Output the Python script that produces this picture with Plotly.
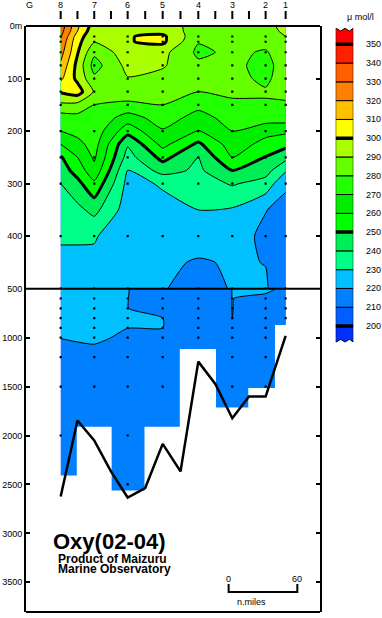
import numpy as np
import plotly.graph_objects as go

# ---------------- data ----------------
stations = ["8", "7", "6", "5", "4", "3", "2", "1"]
station_nm = [0.0, 29.3, 58.5, 89.1, 120.2, 149.9, 179.0, 196.5]

# upper section grid columns: stations plus one analysed column between 8 and 7
upper_nm = [0.0, 14.65, 29.3, 58.5, 89.1, 120.2, 149.9, 179.0, 196.5]
upper_depths = [0, 10, 20, 30, 50, 75, 100, 125, 150, 175, 200, 225, 250, 275, 300, 350, 400, 450, 500]
upper_oxy = [
    #  st8   8/7    st7    st6    st5    st4    st3    st2    st1
    [336,   312,   295,   296,   295,   286,   285,   287,   293],    # 0
    [334,   310,   293,   296,   297,   285,   284,   286,   292],    # 10
    [331,   305,   292,   299.5, 302,   283,   283,   285,   290],    # 20
    [328,   303,   290.5, 299.5, 302,   280.5, 282,   283,   287],    # 30
    [324,   300.8, 282,   296,   293,   278,   282,   279,   286],    # 50
    [318,   297,   276,   293,   291,   282,   283,   276,   286],    # 75
    [312,   297.5, 282,   289.5, 287,   284,   283,   278,   285],    # 100
    [301,   305,   289,   285,   284,   280,   281,   281,   282],    # 125
    [288,   287,   280,   278,   280,   273,   279,   279,   279],    # 150
    [275,   276.5, 278,   265,   275,   266,   274,   275,   275],    # 175
    [270,   273,   276,   254,   269,   259.5, 270,   263,   262],    # 200
    [260,   267,   274,   241,   263,   248,   265,   257,   253],    # 225
    [249,   260,   271.5, 236,   253,   240,   260.5, 249.5, 243],    # 250
    [245,   254,   267,   229.5, 244,   238,   250,   244,   231],    # 275
    [240,   247,   258,   227,   231,   235,   241,   236,   221.5],  # 300
    [235,   237.5, 243,   225,   227,   230,   229,   220.3, 217],    # 350
    [231,   231,   230.8, 224,   224,   225,   224,   218,   215],    # 400
    [228,   228,   228,   222.5, 222,   219,   221,   219.8, 214],    # 450
    [227,   226,   225,   221,   220.5, 217,   220.5, 221,   213],    # 500
]

lower_depths = [500, 600, 700, 800, 900, 1000, 1200, 1500, 2000, 2500, 2700]
lower_oxy = [
    [227, 224, 220.05, 219, 216, 220.05, 221, 219],
    [226, 224, 220.05, 218, 216, 220.05, 219, 217],
    [225, 223.5, 220.05, 218, 216, 220.05, 218, 216],
    [224, 223, 221, 220.05, 216, 220.05, 218, 215],
    [222, 222, 220.05, 220.05, 216, 219, 217, 214],
    [220.1, 221, 219, 219, 215, 218, 216, 214],
    [218, 218, 217, 217, 214, 216, 215, 213],
    [216, 216, 216, 216, 214, 215, 214, 213],
    [215, 215, 215, 215, 213, 214, 214, 213],
    [214, 214, 214, 214, 213, 214, 213, 213],
    [214, 214, 214, 214, 213, 214, 213, 213],
]

# deepest sampled depth per station (block bottoms)
data_bottom = [2408, 1911, 2561, 1911, 1116, 1714, 1514, 871]

# bottom topography (stations and midpoints)
bath_nm = [0.0, 14.65, 29.3, 43.9, 58.5, 73.8, 89.1, 104.65, 120.2, 135.05, 149.9, 164.45, 179.0, 196.5]
bath_depth = [2622, 1847, 2051, 2367, 2633, 2537, 2085, 2367, 1245, 1473, 1823, 1602, 1602, 983]

sample_depths = [0, 20, 30, 50, 75, 100, 125, 150, 200, 250, 300, 400, 500,
                 600, 700, 800, 900, 1000, 1200, 1500, 2000, 2500]

levels = [200, 210, 220, 230, 240, 250, 260, 270, 280, 290, 300, 310, 320, 330, 340, 350]
band_colors = ["#0030FF", "#0060FF", "#0080FF", "#00C0FF", "#00FF88", "#00EE55",
               "#00FF00", "#00EE00", "#22FF00", "#66FF00", "#AAFF00", "#FFFF00",
               "#FFC000", "#FF8000", "#FF6000", "#FF2000", "#FF0000"]

upper_ticks = [0, 100, 200, 300, 400, 500]
upper_ticktext = ["0m", "100", "200", "300", "400", "500"]
lower_ticks = [1000, 1500, 2000, 2500, 3000, 3500]

FONT = "Liberation Sans, Arial, sans-serif"

# ---------------- figure ----------------
W, H = 382, 618
ML, MR, MT, MB = 26, 2, 26, 6
PW, PH = W - ML - MR, H - MT - MB
main_right = 320
x_dom_end = (main_right - ML) / PW
split_px = 288.7
y_split = 1 - (split_px - MT) / PH

nb = len(levels)
colorscale = [[k / nb, band_colors[k]] for k in range(nb + 1)]

fig = go.Figure()

for xs, z, d, xa, ya in [(upper_nm, upper_oxy, upper_depths, "x", "y"),
                         (station_nm, lower_oxy, lower_depths, "x2", "y2")]:
    fig.add_trace(go.Contour(
        x=xs, y=d, z=z, xaxis=xa, yaxis=ya,
        colorscale=colorscale, showscale=False, hoverinfo="skip",
        contours=dict(start=levels[0], end=levels[-1], size=10, coloring="fill", showlines=True),
        line=dict(color="black", width=1, smoothing=0.6),
    ))
    fig.add_trace(go.Contour(
        x=xs, y=d, z=z, xaxis=xa, yaxis=ya, showscale=False, hoverinfo="skip",
        contours=dict(start=levels[0], end=levels[-1], size=50, coloring="none", showlines=True),
        line=dict(color="black", width=3, smoothing=0.6),
    ))

# white masks below deepest data of each station
mids = [(station_nm[i] + station_nm[i + 1]) / 2 for i in range(len(station_nm) - 1)]
lefts = [station_nm[0]] + mids
rights = mids + [station_nm[-1]]
fig.add_trace(go.Bar(
    x=[(l + r) / 2 for l, r in zip(lefts, rights)],
    width=[r - l + 1.2 for l, r in zip(lefts, rights)],
    base=data_bottom, y=[5000 - b for b in data_bottom],
    marker=dict(color="white", line=dict(width=0)),
    xaxis="x2", yaxis="y2", hoverinfo="skip", showlegend=False,
))

# sample dots
for xa, ya, lo, hi in [("x", "y", 0, 500), ("x2", "y2", 501, 4000)]:
    dx, dy = [], []
    for i, s in enumerate(station_nm):
        for dd in sample_depths:
            if lo <= dd <= hi and dd <= data_bottom[i]:
                dx.append(s)
                dy.append(dd)
    fig.add_trace(go.Scatter(x=dx, y=dy, mode="markers", xaxis=xa, yaxis=ya,
                             marker=dict(symbol="square", size=2.2, color="black", line=dict(width=0)),
                             hoverinfo="skip", showlegend=False))

# bathymetry
fig.add_trace(go.Scatter(x=bath_nm, y=bath_depth, mode="lines", xaxis="x2", yaxis="y2",
                         line=dict(color="black", width=2.5), hoverinfo="skip", showlegend=False))

# colour bar
cb_x0, cb_x1 = 335.7, 353.3
fig.add_trace(go.Bar(
    x=[0] * (nb - 1), base=levels[:-1], y=[10] * (nb - 1), width=1,
    marker=dict(color=band_colors[1:nb], line=dict(color="black", width=1)),
    xaxis="x3", yaxis="y3", hoverinfo="skip", showlegend=False,
))
t = np.linspace(-0.5, 0.5, 41)
wave = np.cos(4 * np.pi * t)
top_y = levels[-1] + 7.8 + 0.75 * wave
bot_y = levels[0] - 7.8 - 0.75 * wave
fig.add_trace(go.Scatter(
    x=[-0.5] + list(t) + [0.5, -0.5], y=[levels[-1]] + list(top_y) + [levels[-1], levels[-1]],
    fill="toself", fillcolor=band_colors[-1], mode="lines", line=dict(color="black", width=1),
    xaxis="x3", yaxis="y3", hoverinfo="skip", showlegend=False))
fig.add_trace(go.Scatter(
    x=[-0.5] + list(t) + [0.5, -0.5], y=[levels[0]] + list(bot_y) + [levels[0], levels[0]],
    fill="toself", fillcolor=band_colors[0], mode="lines", line=dict(color="black", width=1),
    xaxis="x3", yaxis="y3", hoverinfo="skip", showlegend=False))

shapes = []
for lv in levels:
    if lv % 50 == 0:
        shapes.append(dict(type="line", xref="x3", yref="y3", x0=-0.5, x1=0.5, y0=lv, y1=lv,
                           line=dict(color="black", width=3.5)))

# frame: top, bottom and 500 m divider
for yy in [0, y_split, 1]:
    shapes.append(dict(type="line", xref="paper", yref="paper", x0=0, x1=x_dom_end, y0=yy, y1=yy,
                       line=dict(color="black", width=2), layer="above"))

# station ticks above frame
tick_pos = station_nm + mids[:-1]
for tp in tick_pos:
    shapes.append(dict(type="line", xref="x", yref="paper", x0=tp, x1=tp,
                       y0=1 + 7 / PH, y1=1 + 15 / PH, line=dict(color="black", width=2)))

# scale bar (0-60 n.miles)
sb0 = 146.7
sb_len = 60
shapes.append(dict(type="path", xref="x2", yref="y2",
                   path=f"M {sb0},3517 L {sb0},3599 L {sb0 + sb_len},3599 L {sb0 + sb_len},3517",
                   line=dict(color="black", width=2)))

annotations = []
for s, lab in zip(station_nm, stations):
    annotations.append(dict(x=s, y=1 + 21 / PH, xref="x", yref="paper", text=lab, showarrow=False,
                            font=dict(size=9, family=FONT, color="black"), xanchor="center", yanchor="middle"))
annotations.append(dict(x=-27.4, y=1 + 21 / PH, xref="x", yref="paper", text="G", showarrow=False,
                        font=dict(size=9, family=FONT, color="black"), xanchor="center", yanchor="middle"))
for lv in levels:
    annotations.append(dict(x=(364 - ML) / PW, y=lv, xref="paper", yref="y3", text=str(lv), showarrow=False,
                            font=dict(size=9, family=FONT, color="black"), xanchor="left", yanchor="middle"))
annotations.append(dict(x=(345 - ML) / PW, y=1 + 8.5 / PH, xref="paper", yref="paper", text="μ mol/l",
                        showarrow=False, font=dict(size=9, family=FONT, color="black"),
                        xanchor="left", yanchor="middle"))
annotations += [
    dict(x=-8.5, y=3085, xref="x2", yref="y2", text="<b>Oxy(02-04)</b>", showarrow=False,
         font=dict(size=22, family=FONT, color="black"), xanchor="left", yanchor="middle"),
    dict(x=-4.0, y=3262, xref="x2", yref="y2", text="<b>Product of Maizuru</b>", showarrow=False,
         font=dict(size=12, family=FONT, color="black"), xanchor="left", yanchor="middle"),
    dict(x=-4.0, y=3368, xref="x2", yref="y2", text="<b>Marine Observatory</b>", showarrow=False,
         font=dict(size=12, family=FONT, color="black"), xanchor="left", yanchor="middle"),
    dict(x=sb0, y=3470, xref="x2", yref="y2", text="0", showarrow=False,
         font=dict(size=9, family=FONT, color="black"), xanchor="center", yanchor="middle"),
    dict(x=sb0 + sb_len, y=3470, xref="x2", yref="y2", text="60", showarrow=False,
         font=dict(size=9, family=FONT, color="black"), xanchor="center", yanchor="middle"),
    dict(x=167, y=3700, xref="x2", yref="y2", text="n.miles", showarrow=False,
         font=dict(size=9, family=FONT, color="black"), xanchor="center", yanchor="middle"),
]

xr = [-30.3, 226.5]
common_x = dict(domain=[0, x_dom_end], range=xr, showline=False, showticklabels=False, ticks="",
                showgrid=False, zeroline=False)
common_y = dict(showline=True, mirror="ticks", linewidth=2, linecolor="black", ticks="inside",
                ticklen=4, tickwidth=2, tickcolor="black", showgrid=False, zeroline=False,
                tickfont=dict(size=9, family=FONT, color="black"))

fig.update_layout(
    width=W, height=H, margin=dict(l=ML, r=MR, t=MT, b=MB, pad=0),
    paper_bgcolor="white", plot_bgcolor="white", showlegend=False, barmode="overlay",
    xaxis=dict(anchor="y", **common_x),
    xaxis2=dict(anchor="y2", matches="x", **common_x),
    yaxis=dict(domain=[y_split, 1], range=[500, 0], tickvals=upper_ticks, ticktext=upper_ticktext,
               anchor="x", **common_y),
    yaxis2=dict(domain=[0, y_split], range=[3803, 500], tickvals=lower_ticks, anchor="x2", **common_y),
    xaxis3=dict(domain=[(cb_x0 - ML) / PW, (cb_x1 - ML) / PW], range=[-0.5, 0.5], anchor="y3",
                visible=False, fixedrange=True),
    yaxis3=dict(domain=[(H - MB - 342.9) / PH, (H - MB - 27.4) / PH], range=[191, 359], anchor="x3",
                visible=False, fixedrange=True),
    shapes=shapes, annotations=annotations,
)

fig.write_html("out.html", config={"displayModeBar": False},
               post_script="document.body.style.margin='0px';document.body.style.overflow='hidden';")
